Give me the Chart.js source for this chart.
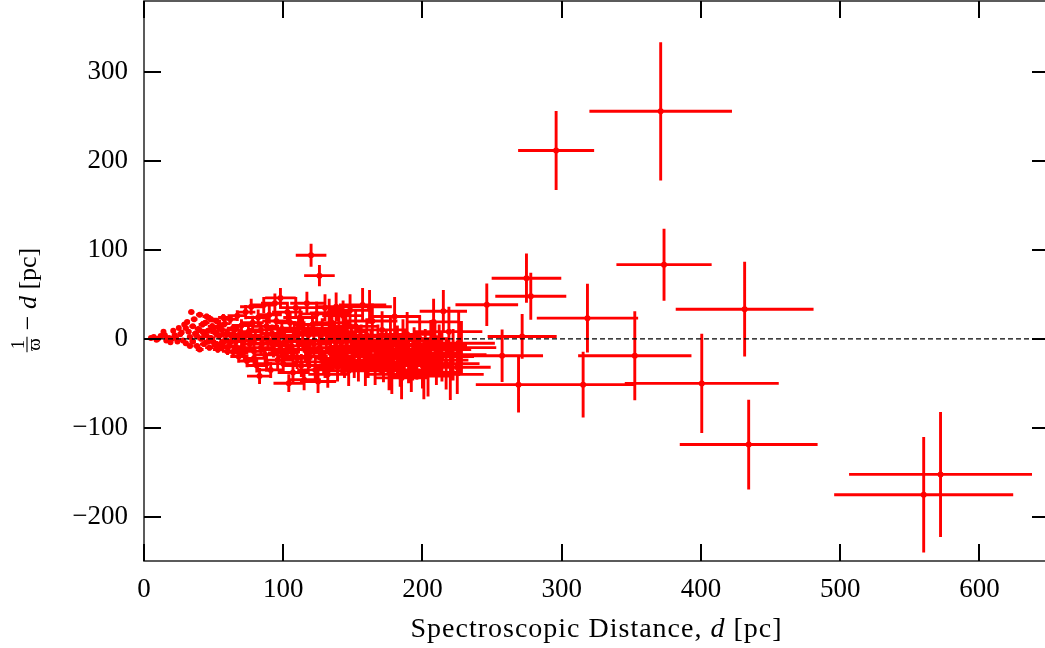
<!DOCTYPE html>
<html>
<head>
<meta charset="utf-8">
<script src="https://cdn.jsdelivr.net/npm/chart.js@4.4.1/dist/chart.umd.min.js"></script>
<style>
  html, body { margin: 0; padding: 0; background: #ffffff; overflow: hidden; }
  #wrap { width: 1045px; height: 648px; overflow: hidden; position: relative; }
  canvas { display: block; margin-top: -3px; }
</style>
</head>
<body>
<div id="wrap"><canvas id="c" width="1062" height="651" style="width:1062px;height:651px"></canvas></div>
<script>
// Spectroscopic distance d [pc]
const dist = [
  5,7,9,12,14,16,18,20,22,24,25,26,28,29,30,31,32,33,34,35,36,37,38,39,40,41,42,43,44,45,46,47,48,49,50,51,52,53,54,55,56,57,58,59,60,
  10,15,19,21,23,27,30,33,35,38,40,42,44,46,48,50,52,54,56,58,60,62,64,66,68,70,
  61,62,63,64,65,66,67,68,69,70,71,72,73,74,75,76,77,78,79,80,81,82,83,84,85,86,87,88,89,90,91,92,93,94,95,96,97,98,99,100,
  72,76,79,84,88,92,96,99,103,107,111,114,118,122,126,130,134,138,142,146,151,156,159,
  101,102,103,104,105,106,107,108,109,110,111,112,113,114,115,116,117,118,119,120,121,122,123,124,125,126,127,128,129,130,
  131,132,133,134,135,136,137,138,139,140,141,142,143,144,145,146,147,148,149,150,152,154,155,157,158,160,162,
  161,163,164,166,168,169,171,172,174,176,177,179,180,182,184,185,187,189,190,192,194,196,198,200,202,204,206,208,210,212,215,217,219,222,225,226,228,
  170,178,186,193,201,209,214,220,
  246.2,257.2,269,271.6,274.7,277.8,296,315.4,318.5,352.5,371.1,373.5,400.6,431.4,434.3,560,572.1
];
// Error on d [pc]
const distErr = [
  0.4,0.5,0.6,0.8,1,1,1.2,1.3,1.4,1.6,1.6,1.7,1.8,1.9,2,2,2.1,2.2,2.2,2.3,2.4,2.4,2.5,2.6,2.6,2.7,2.8,2.8,2.9,3,3,3.1,3.2,3.2,3.3,3.4,3.4,3.5,3.6,3.6,3.7,3.8,3.8,3.9,4,
  0.7,1,1.3,1.5,1.6,1.9,2.1,2.3,2.4,2.6,2.8,2.9,3.1,3.2,3.4,3.5,3.6,3.8,3.9,4.1,4.2,4.3,4.5,4.6,4.8,4.9,
  5,6,5,6,6,6,7,6,7,7,7,7,7,7,8,7,8,8,8,8,8,8,9,8,9,9,9,9,9,9,9,9,10,10,10,10,10,11,10,10,
  7,8,8,8,9,9,10,10,10,11,11,12,12,13,13,14,14,14,15,16,16,17,17,
  10,10,11,11,11,11,11,11,12,11,12,12,12,12,12,12,12,12,13,11,13,13,13,13,13,11,13,13,14,14,
  14,14,14,14,14,14,15,14,15,15,15,15,15,15,15,16,16,16,16,16,16,16,17,17,17,17,16,
  17,17,18,18,18,18,18,19,19,19,19,20,19,20,20,20,20,21,21,21,21,22,22,22,22,23,23,19,23,23,17,24,24,24,24,26,25,
  18,19,20,21,22,23,23,24,
  22.5,29.4,30.7,24.8,25,25.5,27.3,36.5,36.4,40.7,51.2,34.2,55.3,49.5,49.5,64.3,65.7
];
// Residual 1/parallax - d [pc]
const resid = [
  1,2,-1,3,8,-2,1,0,4,-3,12,5,-2,16,-5,19,8,2,30,-3,22,6,-8,11,27,0,16,-6,4,25,9,-10,1,14,-4,7,20,-12,3,-6,10,24,-2,5,-14,
  0,4,-4,9,1,7,12,-8,14,3,-12,8,18,-3,22,12,-8,14,-10,17,6,-4,12,-9,2,-16,
  -8,22,3,-15,10,-3,26,-20,5,15,-10,-2,30,-25,8,-6,36,18,-14,2,-30,24,-42,10,-5,38,-18,14,-1,27,-35,6,-12,40,20,-24,-4,46,11,-28,
  -12,4,-22,-10,-28,-6,4,-16,-8,-20,12,-2,-26,6,-10,-30,-16,-4,-24,2,-26,-2,-34,
  2,-15,30,-50,18,-8,-38,8,35,-22,-3,24,-30,12,-46,-12,40,4,-20,94,16,-6,-35,28,-48,71,-14,9,-26,35,
  -2,-40,29,-10,18,-22,5,36,-32,12,-16,-4,26,-28,8,-12,-36,32,0,-20,14,-30,-8,38,-14,4,36,
  -25,-10,20,-32,-5,-18,10,-28,-12,-36,2,-22,25,-8,-30,-44,-15,5,-26,-35,-12,-20,0,-30,-16,-38,-6,19,-24,-12,31,-28,8,-18,-32,-5,-10,
  -20,-40,-2,-22,-42,-8,-20,-40,
  38.2,-19.1,-51.6,2.6,68.1,47.9,211.8,-51.6,23.2,-19.1,255.9,83.4,-50.2,33.3,-119,-175.4,-152.6
];
// Error on residual [pc]
const residErr = [
  0.5,0.6,0.7,0.9,1,1,1.2,1.4,1.5,1.6,1.8,1.8,2,2,2,2.2,2.2,2.3,2.4,2.4,2.5,2.6,2.6,2.7,2.8,2.8,2.9,3,3,3.1,3.2,3.2,3.3,3.4,3.5,3.5,3.6,3.7,3.7,3.8,3.9,4,4,4.1,4.2,
  0.7,1,1.3,1.5,1.6,1.9,2.1,2.3,2.4,2.6,2.8,2.9,3.1,3.2,3.4,3.5,3.6,3.8,3.9,4.1,4.2,4.3,4.5,4.6,4.8,4.9,
  5,5,5,6,6,5,6,7,6,7,7,6,8,7,7,7,9,8,8,8,8,9,9,8,9,9,8,9,9,10,9,10,9,11,10,10,10,11,10,11,
  7,8,8,9,9,10,10,10,11,11,12,12,13,13,14,14,15,16,16,17,18,18,19,
  11,10,11,10,11,12,11,12,12,12,12,12,13,12,12,13,13,13,13,13,13,13,14,14,13,12,14,14,14,15,
  14,15,16,15,15,15,15,16,16,16,16,16,17,16,17,17,17,18,17,18,18,18,18,19,19,19,19,
  19,20,20,20,21,20,21,21,22,22,22,23,22,23,24,24,24,25,24,25,25,26,26,26,27,27,27,26,28,28,24,29,28,29,30,37,30,
  21,22,24,25,26,27,28,29,
  23.9,29.5,31.4,25.2,27.7,26.5,44.5,37,38.7,50,77.8,40.5,55.8,53.3,50.5,64.9,70.3
];
// Tick values
const xTicks = [0, 100, 200, 300, 400, 500, 600];
const yTicks = [-200, -100, 0, 100, 200, 300];
const xRange = [0, 650];
const yRange = [-250, 380];

const SERIF = '"Liberation Serif", "DejaVu Serif", serif';
const RED = '#ff0000';

const points = dist.map((d, i) => ({ x: d, y: resid[i] }));

const framePlugin = {
  id: 'frame',
  beforeDatasetsDraw(chart) {
    const { ctx, chartArea: a, scales: { x, y } } = chart;
    ctx.save();
    ctx.beginPath();
    ctx.rect(a.left, a.top, a.right - a.left, a.bottom - a.top);
    ctx.clip();
    ctx.strokeStyle = RED;
    ctx.lineWidth = 2.9;
    ctx.lineCap = 'butt';
    ctx.beginPath();
    for (let i = 0; i < dist.length; i++) {
      const px = x.getPixelForValue(dist[i]);
      const py = y.getPixelForValue(resid[i]);
      ctx.moveTo(x.getPixelForValue(dist[i] - distErr[i]), py);
      ctx.lineTo(x.getPixelForValue(dist[i] + distErr[i]), py);
      ctx.moveTo(px, y.getPixelForValue(resid[i] - residErr[i]));
      ctx.lineTo(px, y.getPixelForValue(resid[i] + residErr[i]));
    }
    ctx.stroke();
    ctx.restore();
  },
  afterDraw(chart) {
    const { ctx, chartArea: a, scales: { x, y } } = chart;
    ctx.save();
    // frame
    ctx.strokeStyle = '#333333';
    ctx.lineWidth = 1.6;
    ctx.strokeRect(a.left, a.top, a.right - a.left, a.bottom - a.top);
    // inward ticks on all four sides
    const TL = 17;
    ctx.strokeStyle = '#000000';
    ctx.lineWidth = 2;
    ctx.beginPath();
    x.ticks.forEach(t => {
      const px = Math.round(x.getPixelForValue(t.value));
      ctx.moveTo(px, a.bottom); ctx.lineTo(px, a.bottom - TL);
      ctx.moveTo(px, a.top); ctx.lineTo(px, a.top + TL);
    });
    y.ticks.forEach(t => {
      const py = Math.round(y.getPixelForValue(t.value));
      ctx.moveTo(a.left, py); ctx.lineTo(a.left + TL, py);
      ctx.moveTo(a.right, py); ctx.lineTo(a.right - TL, py);
    });
    ctx.stroke();

    // x-axis title with italic d
    ctx.fillStyle = '#000000';
    ctx.textBaseline = 'alphabetic';
    ctx.textAlign = 'left';
    ctx.letterSpacing = '1px';
    const fN = '28px ' + SERIF, fI = 'italic 28px ' + SERIF;
    const parts = [['Spectroscopic Distance, ', fN], ['d', fI], [' [pc]', fN]];
    let total = 0;
    parts.forEach(p => { ctx.font = p[1]; total += ctx.measureText(p[0]).width; });
    let cx = (a.left + a.right) / 2 - total / 2;
    parts.forEach(p => { ctx.font = p[1]; ctx.fillText(p[0], cx, 640); cx += ctx.measureText(p[0]).width; });

    // y-axis title: fraction 1/varpi − d [pc], rotated
    ctx.letterSpacing = '0px';
    const gN = '26px ' + SERIF, gI = 'italic 26px ' + SERIF;
    ctx.translate(36, 303);
    ctx.rotate(-Math.PI / 2);
    const fS = '19px ' + SERIF;
    ctx.font = fS;
    const w1 = ctx.measureText('1').width;
    const w2 = ctx.measureText('\u03D6').width;
    const fw = Math.max(w1, w2) + 3;
    const rest = [[' \u2212 ', gN], ['d', gI], [' [pc]', gN]];
    let rw = 0;
    rest.forEach(p => { ctx.font = p[1]; rw += ctx.measureText(p[0]).width; });
    let sx = -(fw + rw) / 2;
    const axisY = -9;
    ctx.font = fS;
    ctx.textAlign = 'center';
    ctx.fillText('1', sx + fw / 2, axisY - 3);
    ctx.fillText('\u03D6', sx + fw / 2, axisY + 13);
    ctx.lineWidth = 1.1;
    ctx.beginPath();
    ctx.moveTo(sx, axisY); ctx.lineTo(sx + fw, axisY);
    ctx.stroke();
    ctx.textAlign = 'left';
    sx += fw;
    rest.forEach(p => { ctx.font = p[1]; ctx.fillText(p[0], sx, 0); sx += ctx.measureText(p[0]).width; });
    ctx.restore();
  }
};

const fmt = v => (v < 0 ? '\u2212' + Math.abs(v) : String(v));

new Chart(document.getElementById('c'), {
  type: 'scatter',
  data: {
    datasets: [
      {
        type: 'line',
        data: [{ x: xRange[0], y: 0 }, { x: xRange[1], y: 0 }],
        borderColor: '#000000',
        borderWidth: 1.2,
        borderDash: [5, 3],
        pointRadius: 0,
        order: 0
      },
      {
        data: points,
        backgroundColor: RED,
        borderColor: RED,
        pointRadius: 3,
        pointBorderWidth: 0,
        order: 1
      }
    ]
  },
  options: {
    responsive: false,
    devicePixelRatio: 1,
    animation: false,
    layout: { padding: { top: 1, right: 13, left: 0, bottom: 0 } },
    plugins: { legend: { display: false }, tooltip: { enabled: false } },
    scales: {
      x: {
        type: 'linear',
        min: xRange[0], max: xRange[1],
        grid: { display: false, drawTicks: false },
        border: { display: false },
        afterBuildTicks: s => { s.ticks = xTicks.map(v => ({ value: v })); },
        afterFit: s => { s.height = 87; s.paddingLeft = 0; s.paddingRight = 0; },
        ticks: { color: '#000', font: { family: SERIF, size: 27 }, padding: 13, callback: fmt, maxRotation: 0, autoSkip: false }
      },
      y: {
        type: 'linear',
        min: yRange[0], max: yRange[1],
        grid: { display: false, drawTicks: false },
        border: { display: false },
        afterBuildTicks: s => { s.ticks = yTicks.map(v => ({ value: v })); },
        afterFit: s => { s.width = 144; s.paddingTop = 0; s.paddingBottom = 0; },
        ticks: { color: '#000', font: { family: SERIF, size: 27 }, padding: 16, callback: fmt, autoSkip: false }
      }
    }
  },
  plugins: [framePlugin]
});
</script>
</body>
</html>
